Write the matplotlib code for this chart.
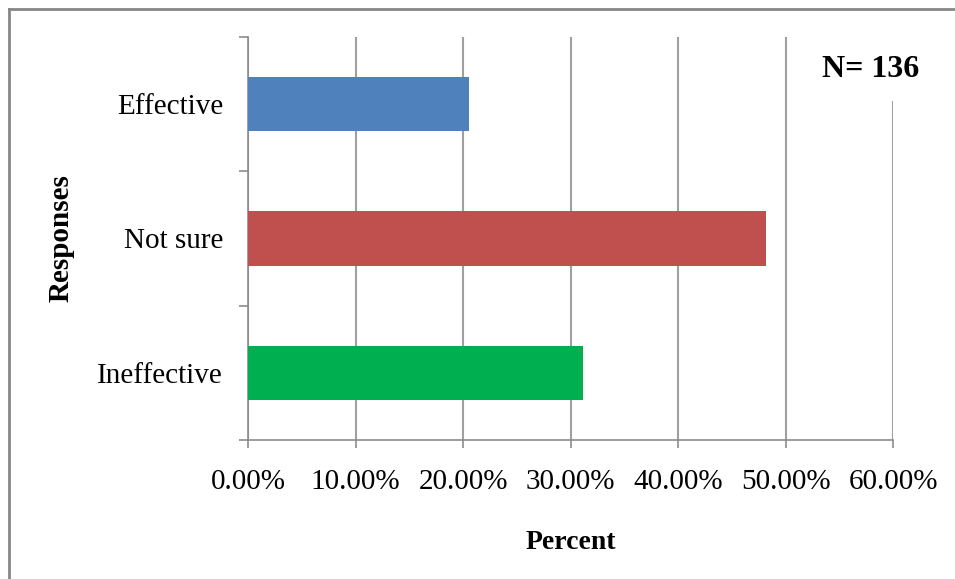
import matplotlib.pyplot as plt
from matplotlib.lines import Line2D
from matplotlib.ticker import FixedLocator

responses = ["Ineffective", "Not sure", "Effective"]
percent = [31.2, 48.2, 20.6]
bar_colors = ["#00B050", "#C0504D", "#4F81BD"]
x_ticks = [0, 10, 20, 30, 40, 50, 60]
n_label = "N= 136"

plt.rcParams["font.family"] = ["Liberation Serif", "DejaVu Serif"]

W, H = 955, 579
fig = plt.figure(figsize=(W / 100, H / 100), dpi=100)
ax = fig.add_axes([248 / W, 1 - 440 / H, (893 - 248) / W, (440 - 37) / H])

pos = list(range(len(responses)))
ax.barh(pos, percent, height=0.405, color=bar_colors, zorder=3)

ax.set_xlim(0, 60)
ax.set_ylim(-0.5, len(responses) - 0.5)

grid_c = "#a0a0a0"
ax.set_xticks(x_ticks)
ax.set_xticklabels([f"{v:.2f}%" for v in x_ticks], fontsize=21)
ax.xaxis.grid(True, color=grid_c, linewidth=1.5, zorder=1)
ax.tick_params(axis="x", direction="out", length=6, width=1.2, color="#8c8c8c", pad=15)

ax.set_yticks(pos)
ax.set_yticklabels(responses, fontsize=21)
ax.tick_params(axis="y", length=0, pad=18)
ax.yaxis.set_minor_locator(FixedLocator([-0.5, 0.5, 1.5, 2.5]))
ax.tick_params(axis="y", which="minor", direction="out", length=6.5, width=1.2, color="#8c8c8c")

for s in ["top", "right"]:
    ax.spines[s].set_visible(False)
for s in ["left", "bottom"]:
    ax.spines[s].set_color("#8c8c8c")
    ax.spines[s].set_linewidth(1.2)

ax.set_xlabel("Percent", fontsize=20, fontweight="bold", labelpad=25)
ax.set_ylabel("Responses", fontsize=21, fontweight="bold", labelpad=16)

ax.text(0.965, 0.92, n_label, transform=ax.transAxes, ha="center", va="center",
        fontsize=23, fontweight="bold", zorder=5,
        bbox=dict(boxstyle="square,pad=0.55", facecolor="white", edgecolor="none"))

# outer frame (only left and top visible in the crop)
fig.add_artist(Line2D([8.5 / W, 8.5 / W], [0, 1 - 8.5 / H], transform=fig.transFigure,
                      color="#868686", linewidth=2))
fig.add_artist(Line2D([8.5 / W, 1], [1 - 8.5 / H, 1 - 8.5 / H], transform=fig.transFigure,
                      color="#868686", linewidth=2))

fig.savefig("out.png", dpi=100)
